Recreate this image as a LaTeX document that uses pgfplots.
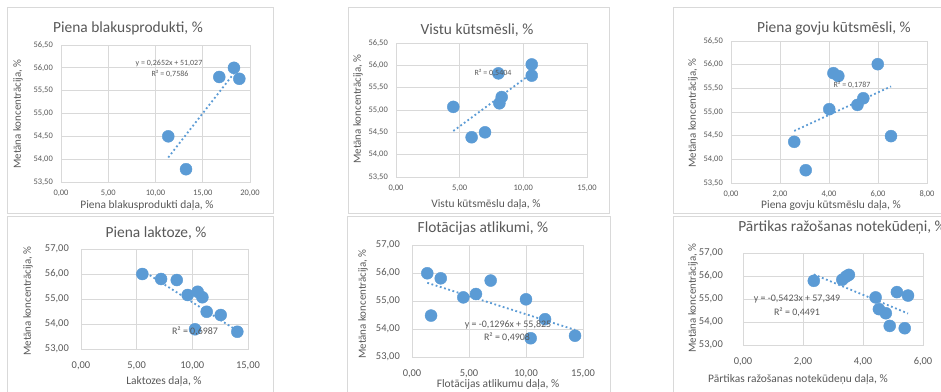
\documentclass[border=0pt]{standalone}
\usepackage{fontspec}
\setmainfont{Carlito}
\usepackage{pgfplots}
\pgfplotsset{compat=1.18}
\definecolor{mblue}{HTML}{5B9BD5}
\definecolor{tgray}{HTML}{595959}
\definecolor{fgray}{HTML}{D9D9D9}
\definecolor{ggray}{HTML}{D9D9D9}
\pgfplotsset{
  panel/.style={
    scale only axis, anchor=south west,
    axis line style={draw=ggray},
    grid=major, major grid style={draw=ggray, line width=0.8bp},
    tick style={draw=none},
    xticklabel={\pgfmathprintnumber[fixed,fixed zerofill,precision=2,use comma,assume math mode=true]{\tick}},
    yticklabel={\pgfmathprintnumber[fixed,fixed zerofill,precision=2,use comma,assume math mode=true]{\tick}},
    ticklabel style={text=tgray},
  },
  toprow/.style={
    ticklabel style={font=\fontsize{8.5}{10}\selectfont},
    xticklabel style={anchor=center, yshift=-11bp},
    yticklabel style={anchor=east, inner sep=0pt, xshift=-8bp},
    ymin=53.5, ymax=56.5, ytick distance=0.5,
  },
  botrow/.style={
    ticklabel style={font=\fontsize{10.5}{12}\selectfont},
    xticklabel style={anchor=center, yshift=-17bp},
    yticklabel style={anchor=east, inner sep=0pt, xshift=-12bp},
    ymin=53, ymax=57, ytick distance=1,
  },
  pts/.style={only marks, mark=*, mark size=6bp, mark options={fill=mblue, draw=mblue}},
  trend/.style={mblue, line width=1.8bp, dash pattern=on 1.8bp off 2.6bp, no marks},
}
\newcommand{\ttl}[1]{\fontsize{15.5}{17}\selectfont\color{tgray}#1}
\newcommand{\lbl}[1]{\fontsize{11}{13}\selectfont\color{tgray}#1}
\newcommand{\xlbl}[1]{\fontsize{11.5}{13}\selectfont\color{tgray}#1}
\begin{document}
\begin{tikzpicture}[x=1bp,y=1bp]
\path[use as bounding box] (0,0) rectangle (941,391);
\clip (0,0) rectangle (941,391);
\fill[white] (0,0) rectangle (941,391);
% frames
\draw[fgray, line width=1bp] (7,383) rectangle (273,178);
\draw[fgray, line width=1bp] (348,383) rectangle (609,178);
\draw[fgray, line width=1bp] (673,383) rectangle (950,178);
\draw[fgray, line width=1bp] (7,175) rectangle (273,-10);
\draw[fgray, line width=1bp] (347,175) rectangle (610,-10);
\draw[fgray, line width=1bp] (673,175) rectangle (950,-10);

% P1
\begin{axis}[panel, toprow, at={(61bp,209bp)}, width=189bp, height=137bp,
  xmin=0, xmax=20, xtick distance=5]
\addplot[trend] coordinates {(11.35,54.037) (18.87,56.031)};
\addplot[pts] coordinates {(11.35,54.5) (13.23,53.78) (16.75,55.8) (18.3,56.0) (18.87,55.76)};
\end{axis}
% P2
\begin{axis}[panel, toprow, at={(396bp,214bp)}, width=191bp, height=134bp,
  xmin=0, xmax=15, xtick distance=5]
\addplot[trend] coordinates {(4.5,54.53) (10.66,55.82)};
\addplot[pts] coordinates {(4.5,55.07) (5.94,54.39) (6.99,54.5) (8.04,55.82) (8.12,55.15) (8.3,55.29) (10.66,56.02) (10.66,55.77)};
\end{axis}
% P3
\begin{axis}[panel, toprow, at={(731bp,208bp)}, width=196bp, height=142bp,
  xmin=0, xmax=8, xtick distance=2]
\addplot[trend] coordinates {(2.58,54.6) (6.53,55.54)};
\addplot[pts] coordinates {(2.58,54.37) (3.05,53.77) (4.01,55.06) (4.18,55.82) (4.38,55.76) (5.16,55.15) (5.4,55.29) (5.99,56.01) (6.53,54.49)};
\end{axis}
% P4
\begin{axis}[panel, botrow, at={(81bp,42bp)}, width=167bp, height=100bp,
  xmin=0, xmax=15, xtick distance=5]
\addplot[trend] coordinates {(5.51,56.14) (14.04,53.73)};
\addplot[pts] coordinates {(5.51,56.0) (7.19,55.8) (8.6,55.76) (9.58,55.16) (10.48,55.29) (10.9,55.07) (11.29,54.49) (12.55,54.36) (10.24,53.79) (14.04,53.69)};
\end{axis}
% P5
\begin{axis}[panel, botrow, at={(412bp,34bp)}, width=171bp, height=112bp,
  xmin=0, xmax=15, xtick distance=5]
\addplot[trend] coordinates {(1.34,55.65) (14.3,53.97)};
\addplot[pts] coordinates {(1.34,55.99) (1.67,54.48) (2.52,55.81) (4.5,55.13) (5.61,55.25) (6.9,55.73) (10.0,55.06) (11.67,54.35) (10.41,53.67) (14.3,53.76)};
\end{axis}
% P6
\begin{axis}[panel, botrow, yticklabel style={xshift=-8bp}, at={(743bp,46bp)}, width=180bp, height=92bp,
  xmin=0, xmax=6, xtick distance=2]
\addplot[trend] coordinates {(2.36,56.07) (5.5,54.37)};
\addplot[pts] coordinates {(2.36,55.79) (3.31,55.84) (3.44,55.98) (3.53,56.05) (4.42,55.07) (5.13,55.3) (5.5,55.15) (4.53,54.56) (4.76,54.38) (4.89,53.83) (5.39,53.73)};
\end{axis}

% titles
\node at (128,363) {\ttl{Piena blakusprodukti, \%}};
\node at (477,361) {\ttl{Vistu kūtsmēsli, \%}};
\node at (834,363) {\ttl{Piena govju kūtsmēsli, \%}};
\node at (156,158) {\ttl{Piena laktoze, \%}};
\node at (483,163) {\ttl{Flotācijas atlikumi, \%}};
\node at (842,163) {\ttl{Pārtikas ražošanas notekūdeņi, \%}};
% y labels
\node[rotate=90] at (18,277) {\lbl{Metāna koncentrācija, \%}};
\node[rotate=90] at (358,282) {\lbl{Metāna koncentrācija, \%}};
\node[rotate=90] at (693,278) {\lbl{Metāna koncentrācija, \%}};
\node[rotate=90] at (28,90) {\lbl{Metāna koncentrācija, \%}};
\node[rotate=90] at (363,87) {\lbl{Metāna koncentrācija, \%}};
\node[rotate=90] at (693,93) {\lbl{Metāna koncentrācija, \%}};
% x labels
\node at (147,185) {\xlbl{Piena blakusprodukti daļa, \%}};
\node at (486,186) {\xlbl{Vistu kūtsmēslu daļa, \%}};
\node at (831,185) {\xlbl{Piena govju kūtsmēslu daļa, \%}};
\node at (164,9) {\xlbl{Laktozes daļa, \%}};
\node at (498,6) {\xlbl{Flotācijas atlikumu daļa, \%}};
\node at (798,11) {\xlbl{Pārtikas ražošanas notekūdeņu daļa, \%}};
% trend labels
\node at (169,328) {\fontsize{8}{9}\selectfont\color{tgray}y = 0,2652x + 51,027};
\node at (170,317) {\fontsize{8}{9}\selectfont\color{tgray}R² = 0,7586};
\node at (493,318) {\fontsize{8}{9}\selectfont\color{tgray}R² = 0,5404};
\node at (852,306) {\fontsize{8}{9}\selectfont\color{tgray}R² = 0,1787};
\node at (195,60) {\fontsize{10}{12}\selectfont\color{tgray}R² = 0,6987};
\node at (508,66) {\fontsize{10}{12}\selectfont\color{tgray}y = -0,1296x + 55,825};
\node at (507,54) {\fontsize{10}{12}\selectfont\color{tgray}R² = 0,4908};
\node at (797,92) {\fontsize{10}{12}\selectfont\color{tgray}y = -0,5423x + 57,349};
\node at (797,79) {\fontsize{10}{12}\selectfont\color{tgray}R² = 0,4491};
\end{tikzpicture}
\end{document}
